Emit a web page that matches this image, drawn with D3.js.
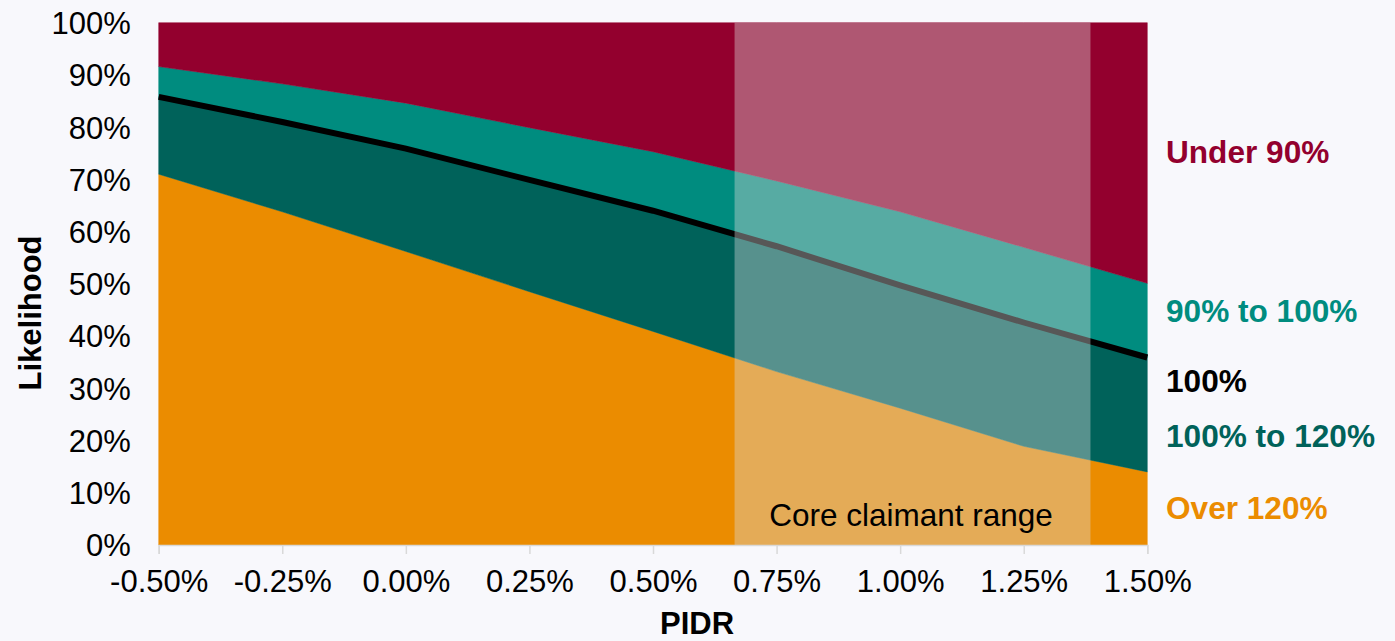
<!DOCTYPE html>
<html>
<head>
<meta charset="utf-8">
<script src="https://cdn.jsdelivr.net/npm/d3@7"></script>
<style>
  html, body { margin: 0; padding: 0; background: #F8F8FC; }
  svg { display: block; font-family: "Liberation Sans", Arial, sans-serif; }
</style>
</head>
<body>
<svg id="chart" width="1395" height="641"></svg>
<script>
// PIDR assumption (percent) and likelihood of each funding outcome (percent)
const pidr = [-0.5, -0.25, 0, 0.25, 0.5, 0.75, 1.0, 1.25, 1.5];
const over120 = [71.0, 63.8, 56.2, 48.5, 40.9, 33.2, 26.2, 18.9, 14.0];
const from100to120 = [14.8, 17.2, 19.7, 21.4, 23.1, 24.0, 23.5, 23.7, 21.9];
const from90to100 = [5.8, 7.3, 8.7, 10.0, 11.3, 12.5, 14.1, 14.4, 14.2];
const under90 = [8.4, 11.7, 15.4, 20.1, 24.7, 30.3, 36.2, 43.0, 49.9];

const xTicks = [-0.5, -0.25, 0, 0.25, 0.5, 0.75, 1.0, 1.25, 1.5];
const yTicks = [0, 10, 20, 30, 40, 50, 60, 70, 80, 90, 100];
const coreRange = [0.665, 1.385];

const seriesKeys = ["over120", "from100to120", "from90to100", "under90"];
const seriesColors = {
  over120: "#EB8C00",
  from100to120: "#00625A",
  from90to100: "#008C7F",
  under90: "#93002E"
};

const rows = pidr.map((p, i) => ({
  pidr: p,
  over120: over120[i],
  from100to120: from100to120[i],
  from90to100: from90to100[i],
  under90: under90[i]
}));

const svg = d3.select("#chart");
const plotLeft = 158.7, plotRight = 1147.3, plotTop = 22.7, plotBottom = 545;

const x = d3.scaleLinear().domain([-0.5, 1.5]).range([plotLeft, plotRight]);
const y = d3.scaleLinear().domain([0, 100]).range([plotBottom, plotTop]);

const stacked = d3.stack().keys(seriesKeys)(rows);

const area = d3.area()
  .x(d => x(d.data.pidr))
  .y0(d => y(d[0]))
  .y1(d => y(d[1]));

svg.append("g").selectAll("path")
  .data(stacked)
  .join("path")
  .attr("d", area)
  .attr("fill", d => seriesColors[d.key])
  .attr("stroke", d => seriesColors[d.key])
  .attr("stroke-width", 0.5);

// 100% funding boundary line
const line100 = d3.line()
  .x(d => x(d.data.pidr))
  .y(d => y(d[1]));
svg.append("path")
  .attr("d", line100(stacked[1]))
  .attr("fill", "none")
  .attr("stroke", "#000")
  .attr("stroke-width", 6)
  .attr("stroke-linecap", "butt");

// Core claimant range shading
svg.append("rect")
  .attr("x", x(coreRange[0]))
  .attr("y", y(100))
  .attr("width", x(coreRange[1]) - x(coreRange[0]))
  .attr("height", y(0) - y(100))
  .attr("fill", "#D9D9D9")
  .attr("fill-opacity", 0.4);

svg.append("text")
  .attr("x", 911)
  .attr("y", 526)
  .attr("text-anchor", "middle")
  .attr("font-size", 31.5)
  .attr("fill", "#000")
  .text("Core claimant range");

// X axis
const xAxis = d3.axisBottom(x)
  .tickValues(xTicks)
  .tickSize(9)
  .tickPadding(16)
  .tickFormat(d => d3.format(".2f")(d).replace("\u2212", "-") + "%");
const gx = svg.append("g").attr("transform", `translate(0,${plotBottom})`).call(xAxis);
gx.select(".domain").attr("stroke", "#D9D9D9").attr("stroke-width", 1.5);
gx.selectAll(".tick line").attr("stroke", "#D9D9D9").attr("stroke-width", 1.5);
gx.selectAll(".tick text")
  .attr("font-size", 31)
  .attr("font-family", "Liberation Sans, Arial, sans-serif")
  .attr("fill", "#000")
  .attr("dy", "0.71em");

// Y axis
const yAxis = d3.axisLeft(y)
  .tickValues(yTicks)
  .tickSize(0)
  .tickPadding(28)
  .tickFormat(d => d + "%");
const gy = svg.append("g").attr("transform", `translate(${plotLeft},0)`).call(yAxis);
gy.select(".domain").remove();
gy.selectAll(".tick text")
  .attr("font-size", 31)
  .attr("font-family", "Liberation Sans, Arial, sans-serif")
  .attr("fill", "#000")
  .attr("dy", "0.35em");

// Axis titles
svg.append("text")
  .attr("x", 697)
  .attr("y", 634)
  .attr("text-anchor", "middle")
  .attr("font-size", 31)
  .attr("font-weight", "bold")
  .text("PIDR");

svg.append("text")
  .attr("transform", "translate(41,313) rotate(-90)")
  .attr("text-anchor", "middle")
  .attr("font-size", 31)
  .attr("font-weight", "bold")
  .text("Likelihood");

// Series labels on the right
const labels = [
  { text: "Under 90%", y: 163, color: "#93002E" },
  { text: "90% to 100%", y: 322, color: "#008C7F" },
  { text: "100%", y: 392, color: "#000000" },
  { text: "100% to 120%", y: 447, color: "#00625A" },
  { text: "Over 120%", y: 519, color: "#EB8C00" }
];
svg.append("g").selectAll("text")
  .data(labels)
  .join("text")
  .attr("x", 1166)
  .attr("y", d => d.y)
  .attr("font-size", 31.6)
  .attr("font-weight", "bold")
  .attr("fill", d => d.color)
  .text(d => d.text);
</script>
</body>
</html>
